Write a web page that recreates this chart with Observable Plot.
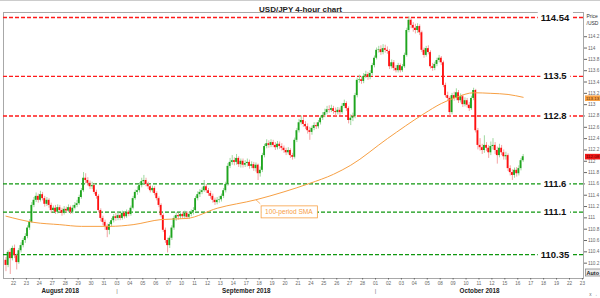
<!DOCTYPE html>
<html><head><meta charset="utf-8">
<script src="https://cdn.jsdelivr.net/npm/d3@7"></script>
<script src="https://cdn.jsdelivr.net/npm/@observablehq/plot@0.6"></script>
<style>
html,body{margin:0;padding:0;background:#fff;}
#chart{width:600px;height:298px;overflow:hidden;}
</style></head><body><div id="chart"></div>
<script>
const title = "USD/JPY 4-hour chart";
const firstOpen = 110.25;
const firstSlot = -4; // first candle: Aug 21, 4-hour slots, 6 per trading day
const close = [
110.16,110.39,110.28,110.46,
110.33,110.21,110.42,110.51,110.60,110.67,
110.82,110.92,111.22,111.31,111.38,111.31,
111.41,111.34,111.24,111.31,111.22,111.13,
111.17,111.10,111.18,111.13,111.08,111.15,
111.12,111.18,111.10,111.17,111.22,111.25,
111.36,111.48,111.70,111.66,111.61,111.55,
111.57,111.45,111.38,111.13,110.99,110.92,
110.85,110.78,110.88,110.95,111.02,110.99,
111.04,110.99,111.08,111.02,111.10,111.06,
111.17,111.34,111.45,111.48,111.57,111.64,
111.66,111.59,111.55,111.48,111.52,111.43,
111.34,111.22,111.04,110.78,110.60,110.51,
110.64,110.82,110.99,111.04,111.02,111.06,
111.02,111.08,111.01,111.06,111.10,111.13,
111.34,111.41,111.45,111.48,111.55,111.48,
111.43,111.38,111.31,111.27,111.31,111.32,
111.38,111.48,111.59,111.91,111.98,112.01,
111.98,112.05,111.94,112.00,111.93,111.96,
111.98,111.91,111.94,111.87,111.93,111.78,
111.84,112.10,112.26,112.31,112.28,112.33,
112.28,112.24,112.30,112.26,112.23,112.19,
112.15,112.19,112.10,112.07,112.37,112.54,
112.68,112.72,112.65,112.61,112.54,112.51,
112.58,112.63,112.61,112.68,112.76,112.81,
112.86,112.91,112.90,112.93,112.88,112.86,
112.90,112.86,112.97,113.02,112.93,112.72,
112.76,112.79,113.16,113.43,113.44,113.41,
113.50,113.53,113.48,113.55,113.69,113.82,
113.96,113.97,113.92,113.99,113.96,113.94,
113.67,113.74,113.64,113.60,113.69,113.60,
113.67,113.87,114.31,114.49,114.40,114.35,
114.31,114.38,114.27,113.96,113.87,113.99,
113.92,113.67,113.64,113.71,113.78,113.82,
113.74,113.34,113.16,113.11,112.86,113.16,
113.11,113.21,113.07,113.14,113.00,113.07,
112.99,112.93,113.11,113.25,112.54,112.28,
112.24,112.19,112.28,112.23,112.15,112.26,
112.28,112.19,112.10,112.23,112.15,112.08,
112.10,111.87,111.80,111.75,111.84,111.78,
111.87,112.01,112.08];
const high = [
110.30,110.42,110.45,110.50,
110.52,110.36,110.46,110.56,110.64,110.72,
110.86,110.97,111.27,111.36,111.44,111.42,
111.47,111.45,111.38,111.36,111.34,111.26,
111.21,111.22,111.23,111.22,111.17,111.20,
111.19,111.23,111.21,111.22,111.27,111.31,
111.40,111.52,111.80,111.78,111.71,111.65,
111.63,111.60,111.49,111.41,111.16,111.03,
110.96,110.89,110.92,110.99,111.06,111.08,
111.09,111.07,111.12,111.11,111.14,111.13,
111.21,111.38,111.49,111.55,111.62,111.70,
111.75,111.70,111.63,111.58,111.56,111.55,
111.46,111.37,111.25,111.07,110.82,110.64,
110.68,110.86,111.03,111.09,111.08,111.10,
111.10,111.12,111.11,111.10,111.14,111.18,
111.38,111.46,111.50,111.53,111.66,111.59,
111.52,111.47,111.42,111.35,111.36,111.38,
111.42,111.52,111.63,111.96,112.05,112.10,
112.06,112.12,112.08,112.04,112.04,112.01,
112.04,112.02,111.99,111.98,111.97,111.95,
111.90,112.14,112.30,112.38,112.36,112.38,
112.37,112.33,112.35,112.34,112.31,112.27,
112.23,112.24,112.22,112.14,112.41,112.58,
112.74,112.80,112.77,112.70,112.66,112.60,
112.62,112.68,112.68,112.72,112.80,112.86,
112.92,112.97,112.98,112.99,112.97,112.94,
112.95,112.94,113.02,113.08,113.05,112.96,
112.82,112.85,113.20,113.47,113.52,113.49,
113.55,113.59,113.57,113.60,113.73,113.86,
114.00,114.03,114.04,114.06,114.05,114.02,
113.97,113.79,113.78,113.69,113.73,113.72,
113.71,113.91,114.35,114.55,114.52,114.45,
114.42,114.43,114.41,114.30,114.00,114.03,
114.04,113.95,113.73,113.75,113.82,113.87,
113.85,113.77,113.38,113.22,113.14,113.20,
113.22,113.28,113.25,113.19,113.17,113.12,
113.11,113.04,113.15,113.29,113.27,112.58,
112.40,112.30,112.45,112.33,112.28,112.34,
112.40,112.33,112.25,112.30,112.28,112.20,
112.16,112.13,111.92,111.85,111.88,111.89,
111.92,112.05,112.12];
const low = [
110.05,110.12,110.00,110.24,
110.28,110.08,110.18,110.38,110.47,110.55,
110.63,110.78,110.90,111.18,111.27,111.26,
111.28,111.30,111.19,111.20,111.17,111.08,
111.09,111.06,111.07,111.09,111.03,111.05,
111.08,111.09,111.06,111.07,111.14,111.18,
111.22,111.33,111.45,111.60,111.56,111.50,
111.50,111.41,111.33,111.09,110.93,110.86,
110.78,110.65,110.70,110.84,110.91,110.94,
110.95,110.95,110.96,110.98,110.99,111.02,
111.03,111.14,111.31,111.40,111.44,111.53,
111.59,111.55,111.50,111.44,111.44,111.39,
111.30,111.18,111.00,110.74,110.55,110.38,
110.46,110.60,110.78,110.94,110.96,110.97,
110.98,110.98,110.97,110.97,111.02,111.05,
111.10,111.30,111.36,111.41,111.45,111.43,
111.38,111.33,111.26,111.22,111.23,111.26,
111.28,111.34,111.44,111.56,111.87,111.93,
111.92,111.93,111.89,111.88,111.88,111.89,
111.90,111.86,111.87,111.82,111.81,111.66,
111.72,111.80,112.06,112.22,112.23,112.24,
112.24,112.19,112.20,112.21,112.18,112.14,
112.10,112.11,112.05,112.02,112.04,112.33,
112.50,112.64,112.60,112.56,112.48,112.37,
112.46,112.54,112.56,112.57,112.64,112.72,
112.77,112.82,112.85,112.86,112.83,112.80,
112.82,112.81,112.83,112.93,112.88,112.66,
112.63,112.70,112.75,113.12,113.38,113.36,
113.37,113.46,113.43,113.44,113.51,113.65,
113.79,113.91,113.87,113.88,113.91,113.89,
113.62,113.63,113.59,113.56,113.56,113.56,
113.57,113.64,113.84,114.27,114.34,114.28,
114.25,114.26,114.22,113.92,113.82,113.84,
113.88,113.63,113.59,113.60,113.67,113.74,
113.69,113.30,113.12,113.06,112.80,112.82,
113.06,113.07,113.02,113.03,112.95,112.96,
112.94,112.88,112.90,113.07,112.50,112.20,
112.18,112.12,112.14,112.17,112.05,112.10,
112.20,112.12,111.95,112.06,112.10,112.02,
112.02,111.82,111.74,111.66,111.70,111.72,
111.74,111.83,111.98];

const smaSlot  = [-4, 9, 21, 31, 44, 55, 68, 80, 94, 112, 125, 137, 148, 156, 173, 190, 198, 205, 213, 221, 229, 236];
const smaValue = [111.03,110.92,110.88,110.85,110.85,110.88,110.97,110.99,111.17,111.32,111.46,111.61,111.77,111.93,112.40,112.84,113.02,113.13,113.21,113.20,113.18,113.13];
const smaLabel = "100-period SMA";

const levels = [114.54, 113.5, 112.8, 111.6, 111.1, 110.35];
const levelLabels = ["114.54","113.5","112.8","111.6","111.1","110.35"];
const levelKind = ["resistance","resistance","resistance","support","support","support"];

const yTicks = [110.2,110.4,110.6,110.8,111,111.2,111.4,111.6,111.8,112,112.2,112.4,112.6,112.8,113,113.2,113.4,113.6,113.8,114,114.2];
const dayLabels = ["22","23","24","27","28","29","30","31","03","04","05","06","07","10","11","12","13","14","17","18","19","20","21","24","25","26","27","28","01","02","03","04","05","08","09","10","11","12","15","16","17","18","19","22","23"];
const months = ["August 2018","September 2018","October 2018"];
const monthStartDay = [0, 8, 28];

// ---- build tables ----
const candles = close.map((c, i) => ({
  x: i + firstSlot,
  open: i === 0 ? firstOpen : close[i - 1],
  high: high[i], low: low[i], close: c
}));
const sma = smaSlot.map((s, i) => ({x: s, y: smaValue[i]}));
const daySlot = dayLabels.map((d, k) => 6 * k - 0.5);
const dayMap = new Map(daySlot.map((s, k) => [s, dayLabels[k]]));
const xDomain = [-5.14, 264.0];
const monthBounds = monthStartDay.map((k, i) => [
  i === 0 ? xDomain[0] : daySlot[k],
  i + 1 < monthStartDay.length ? daySlot[monthStartDay[i + 1]] : xDomain[1]
]);

const GREEN = "#1ea51e", RED = "#ff1010";
const WICK_G = "#9fd89f", WICK_R = "#f4a3a3";
const LVL = {resistance: "#ff1a1a", support: "#0f970f"};
const ORANGE = "#f7a044";
const bull = d => d.close >= d.open;
const anchorPt = sma[9];

const chart = Plot.plot({
  width: 600, height: 298,
  marginTop: 12, marginBottom: 20, marginLeft: 3, marginRight: 17,
  style: {fontFamily: "'Liberation Sans', Arial, sans-serif", background: "#fff", overflow: "visible"},
  x: {domain: xDomain},
  y: {domain: [109.929, 114.628]},
  marks: [
    Plot.frame({stroke: "#a8a8a8"}),
    Plot.axisY({anchor: "right", ticks: yTicks, tickSize: 3, tickPadding: 1.5, fontSize: 4.7, color: "#666",
      tickFormat: d => Math.abs(d - Math.round(d)) < 1e-6 ? String(Math.round(d)) : d.toFixed(1)}),
    Plot.axisX({ticks: daySlot, tickFormat: d => dayMap.get(d), tickSize: 1.5, tickPadding: 2, fontSize: 4.6, color: "#666"}),
    Plot.ruleY(levels, {y: d => d, stroke: (d, i) => LVL[levelKind[i]], strokeDasharray: "4,2", strokeWidth: 1.3}),
    Plot.ruleX(candles, {x: "x", y1: "low", y2: "high", stroke: d => bull(d) ? WICK_G : WICK_R, strokeWidth: 1}),
    Plot.rect(candles, {x1: d => d.x - 0.42, x2: d => d.x + 0.42, y1: "open", y2: "close", fill: d => bull(d) ? GREEN : RED}),
    Plot.line(sma, {x: "x", y: "y", stroke: ORANGE, strokeWidth: 1, curve: "monotone-x"}),
    Plot.link([anchorPt], {x1: "x", y1: "y", x2: d => d.x + 2, y2: d => d.y - 0.07, stroke: ORANGE, strokeWidth: 0.8}),
    Plot.text([smaLabel], {x: () => anchorPt.x, y: () => anchorPt.y, text: d => d, dx: 33, dy: 12, fill: ORANGE, fontSize: 6.6, textAnchor: "middle"}),
    Plot.text(levels, {y: d => d, text: (d, i) => levelLabels[i], frameAnchor: "right", dx: -28.5, textAnchor: "middle", fontWeight: "bold", fontSize: 9.5, fill: "#111"}),
    Plot.text([title], {text: d => d, frameAnchor: "top", dx: 7, dy: -6, fontWeight: "bold", fontSize: 8, fill: "#222"}),
    Plot.text(["Price\n/USD"], {text: d => d, frameAnchor: "top-right", textAnchor: "start", lineAnchor: "top", dx: 3, dy: 1, fontSize: 5, fill: "#333", lineHeight: 1.3}),
    Plot.text([smaValue[smaValue.length - 1]], {y: d => d, text: d => d.toFixed(2), frameAnchor: "right", textAnchor: "start", dx: 2.5, dy: 1, fontSize: 4.4, fill: "#5a2a00"}),
    Plot.text([close[close.length - 1]], {y: d => d, text: d => d.toFixed(2), frameAnchor: "right", textAnchor: "start", dx: 2.5, fontSize: 4.4, fill: "#5a0000"}),
    Plot.text(["Auto"], {text: d => d, frameAnchor: "bottom-right", textAnchor: "start", dx: 3, dy: -4, fontSize: 5.5, fontWeight: "bold", fill: "#222"}),
    Plot.text(months, {x: (d, i) => (monthBounds[i][0] + monthBounds[i][1]) / 2, text: d => d, frameAnchor: "bottom", dy: 14, fontSize: 6.3, fontWeight: "bold", fill: "#222"}),
    Plot.tickX(monthStartDay.slice(1), {x: k => daySlot[k], y1: () => 109.929, y2: () => 109.929, stroke: "none"}),
    Plot.text(monthStartDay.slice(1), {x: k => daySlot[k], text: () => "|", frameAnchor: "bottom", dy: 14, fontSize: 6, fill: "#777"})
  ]
});
document.getElementById("chart").append(chart);

// ---- post: boxes behind some labels ----
const NS = "http://www.w3.org/2000/svg";
function boxText(content, fill, stroke, px, py) {
  for (const t of chart.querySelectorAll("text")) {
    if (t.textContent === content) {
      const b = t.getBBox();
      const r = document.createElementNS(NS, "rect");
      r.setAttribute("x", b.x - px); r.setAttribute("y", b.y - py);
      r.setAttribute("width", b.width + 2 * px); r.setAttribute("height", b.height + 2 * py);
      r.setAttribute("fill", fill);
      if (stroke) { r.setAttribute("stroke", stroke); r.setAttribute("stroke-width", 0.8); }
      if (t.getAttribute("transform")) r.setAttribute("transform", t.getAttribute("transform"));
      t.parentNode.insertBefore(r, t);
    }
  }
}
levelLabels.forEach(l => boxText(l, "#fff", null, 3, -0.5));
boxText(smaLabel, "#fff", ORANGE, 4, 2);
boxText(smaValue[smaValue.length - 1].toFixed(2), ORANGE, null, 1, 0.3);
boxText(close[close.length - 1].toFixed(2), "#f01818", null, 1, 0.3);
boxText("Auto", "#eee", "#888", 1, 0.5);
const topLine = document.createElementNS(NS, "line");
topLine.setAttribute("x1", 0); topLine.setAttribute("x2", 600); topLine.setAttribute("y1", 0.5); topLine.setAttribute("y2", 0.5);
topLine.setAttribute("stroke", "#ccc");
chart.append(topLine);
</script></body></html>
